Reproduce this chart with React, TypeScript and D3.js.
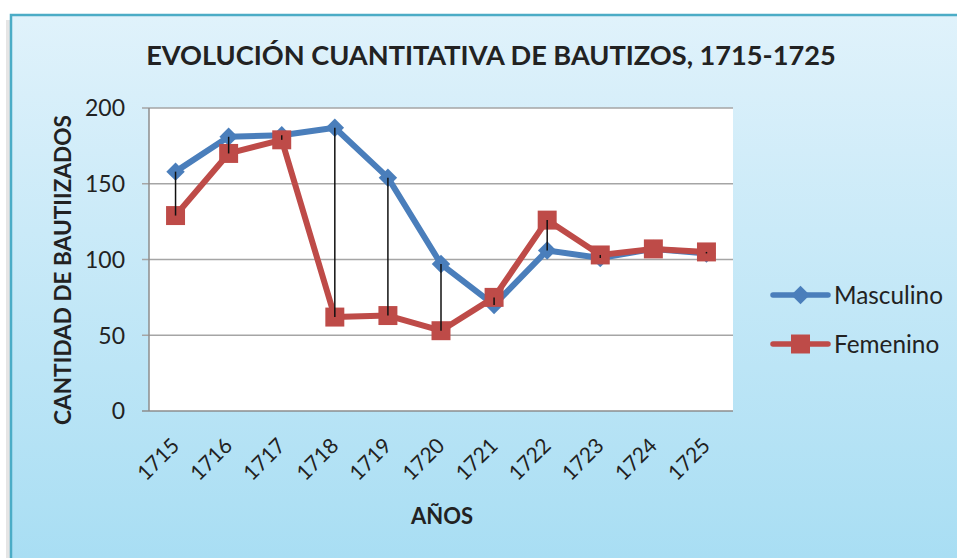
import * as d3 from 'd3';
import { useEffect, useRef } from 'react';

const years = ['1715', '1716', '1717', '1718', '1719', '1720', '1721', '1722', '1723', '1724', '1725'];
const masculino = [158, 181, 182, 187, 154, 97, 70, 106, 101, 107, 104];
const femenino = [129, 170, 179, 62, 63, 53, 75, 126, 103, 107, 105];
const yTicks = [0, 50, 100, 150, 200];

const BLUE = '#4A7EBB';
const RED = '#BE4B48';
const FONT = 'Lato, "Open Sans", sans-serif';

// scale a text's font size so that its rendered width hits the target
function fitText(sel: d3.Selection<SVGTextElement, any, any, any>, target: number) {
  const node = sel.node();
  if (!node) return 16;
  const base = parseFloat(sel.style('font-size')) || 16;
  const w = node.getComputedTextLength();
  const size = w > 0 ? (base * target) / w : base;
  return size;
}

export default function App() {
  const ref = useRef<HTMLDivElement>(null);

  useEffect(() => {
    document.body.style.margin = '0';
    const width = 957;
    const height = 558;

    d3.select(ref.current).selectAll('*').remove();

    const svg = d3
      .select(ref.current)
      .append('svg')
      .attr('width', width)
      .attr('height', height)
      .style('display', 'block')
      .style('font-family', FONT);

    /* ---------- BACKGROUND ---------- */
    const defs = svg.append('defs');
    const grad = defs
      .append('linearGradient')
      .attr('id', 'bg')
      .attr('x1', 0)
      .attr('y1', 0)
      .attr('x2', 0)
      .attr('y2', 1);
    grad.append('stop').attr('offset', '0%').attr('stop-color', '#E0F2FB');
    grad.append('stop').attr('offset', '100%').attr('stop-color', '#A6DDF3');

    svg.append('rect').attr('width', width).attr('height', height).attr('fill', '#fff');
    svg
      .append('rect')
      .attr('x', 6)
      .attr('y', 20)
      .attr('width', 6)
      .attr('height', height)
      .attr('fill', '#d4d4d4')
      .attr('opacity', 0.6);
    svg
      .append('rect')
      .attr('x', 11)
      .attr('y', 15)
      .attr('width', width + 10)
      .attr('height', height + 10)
      .attr('fill', 'url(#bg)')
      .attr('stroke', '#4BACC6')
      .attr('stroke-width', 2.5);

    /* ---------- SCALES ---------- */
    const x = d3.scaleBand().domain(years).range([149, 733]);
    const cx = (d: string) => (x(d) ?? 0) + x.bandwidth() / 2;
    const y = d3.scaleLinear().domain([0, 200]).range([411, 108]);

    /* ---------- PLOT AREA ---------- */
    svg
      .append('rect')
      .attr('x', 149)
      .attr('y', y(200))
      .attr('width', 733 - 149)
      .attr('height', y(0) - y(200))
      .attr('fill', '#fff');

    svg
      .selectAll('.grid')
      .data(yTicks)
      .enter()
      .append('line')
      .attr('x1', 142)
      .attr('x2', 733)
      .attr('y1', d => y(d))
      .attr('y2', d => y(d))
      .attr('stroke', d => (d === 0 ? '#8C8C8C' : '#A5A5A5'))
      .attr('stroke-width', 1.5);

    svg
      .append('line')
      .attr('x1', 149)
      .attr('x2', 149)
      .attr('y1', y(200))
      .attr('y2', y(0))
      .attr('stroke', '#8C8C8C')
      .attr('stroke-width', 1.5);

    /* ---------- AXIS LABELS ---------- */
    const yLab = svg
      .selectAll('.ytick')
      .data(yTicks)
      .enter()
      .append('text')
      .attr('x', 125)
      .attr('y', d => y(d))
      .attr('dy', '0.36em')
      .attr('text-anchor', 'end')
      .attr('fill', '#222')
      .style('font-size', '20px')
      .text(d => d);
    const ySize = fitText(yLab.filter(d => d === 200) as any, 40);
    yLab.style('font-size', `${ySize}px`);

    const xLab = svg
      .selectAll('.xtick')
      .data(years)
      .enter()
      .append('text')
      .attr('transform', d => `translate(${cx(d) + 5},447) rotate(-45)`)
      .attr('text-anchor', 'end')
      .attr('fill', '#222')
      .style('font-size', '20px')
      .text(d => d);
    const xSize = fitText(xLab.filter((_, i) => i === 0) as any, 49);
    xLab.style('font-size', `${xSize}px`);

    const xTitle = svg
      .append('text')
      .attr('x', 442)
      .attr('y', 516)
      .attr('dy', '0.36em')
      .attr('text-anchor', 'middle')
      .attr('fill', '#222')
      .style('font-size', '20px')
      .style('font-weight', 700)
      .text('AÑOS');
    xTitle.style('font-size', `${fitText(xTitle, 62)}px`);

    const yTitle = svg
      .append('text')
      .attr('transform', 'translate(63,270) rotate(-90)')
      .attr('dy', '0.36em')
      .attr('text-anchor', 'middle')
      .attr('fill', '#222')
      .style('font-size', '20px')
      .style('font-weight', 700)
      .text('CANTIDAD DE BAUTIIZADOS');
    yTitle.style('font-size', `${fitText(yTitle, 310)}px`);

    const title = svg
      .append('text')
      .attr('x', 491)
      .attr('y', 55)
      .attr('dy', '0.36em')
      .attr('text-anchor', 'middle')
      .attr('fill', '#222')
      .style('font-size', '24px')
      .style('font-weight', 700)
      .text('EVOLUCIÓN CUANTITATIVA DE BAUTIZOS, 1715-1725');
    title.style('font-size', `${fitText(title, 690)}px`);

    /* ---------- SERIES ---------- */
    // diamond = square turned 45 degrees
    const series = [
      { name: 'Masculino', values: masculino, color: BLUE, size: 170, rot: 45 },
      { name: 'Femenino', values: femenino, color: RED, size: 360, rot: 0 },
    ];
    const marker = (size: number) => d3.symbol().type(d3.symbolSquare).size(size)();

    const line = d3
      .line<number>()
      .x((_, i) => cx(years[i]))
      .y(d => y(d));

    series.forEach(s => {
      svg
        .append('path')
        .attr('d', line(s.values))
        .attr('fill', 'none')
        .attr('stroke', s.color)
        .attr('stroke-width', 6)
        .attr('stroke-linejoin', 'round');

      svg
        .selectAll(`.m-${s.name}`)
        .data(s.values)
        .enter()
        .append('path')
        .attr('transform', (d, i) => `translate(${cx(years[i])},${y(d)}) rotate(${s.rot})`)
        .attr('d', marker(s.size))
        .attr('fill', s.color);
    });

    /* ---------- HIGH-LOW LINES ---------- */
    svg
      .selectAll('.hilo')
      .data(years)
      .enter()
      .append('line')
      .attr('x1', d => cx(d))
      .attr('x2', d => cx(d))
      .attr('y1', (_, i) => y(masculino[i]))
      .attr('y2', (_, i) => y(femenino[i]))
      .attr('stroke', '#111')
      .attr('stroke-width', 1.5);

    /* ---------- LEGEND ---------- */
    const legend = svg
      .selectAll('.legend')
      .data(series)
      .enter()
      .append('g')
      .attr('transform', (_, i) => `translate(773,${295 + i * 49})`);

    legend
      .append('line')
      .attr('x1', 0)
      .attr('x2', 55)
      .attr('stroke', d => d.color)
      .attr('stroke-width', 5.5)
      .attr('stroke-linecap', 'round');

    legend
      .append('path')
      .attr('transform', d => `translate(27.5,0) rotate(${d.rot})`)
      .attr('d', d => marker(d.size))
      .attr('fill', d => d.color);

    const legText = legend
      .append('text')
      .attr('x', 61)
      .attr('dy', '0.36em')
      .attr('fill', '#222')
      .style('font-size', '20px')
      .text(d => d.name);
    legText.style('font-size', `${fitText(legText.filter((_, i) => i === 0) as any, 109)}px`);
  }, []);

  return <div ref={ref} />;
}
